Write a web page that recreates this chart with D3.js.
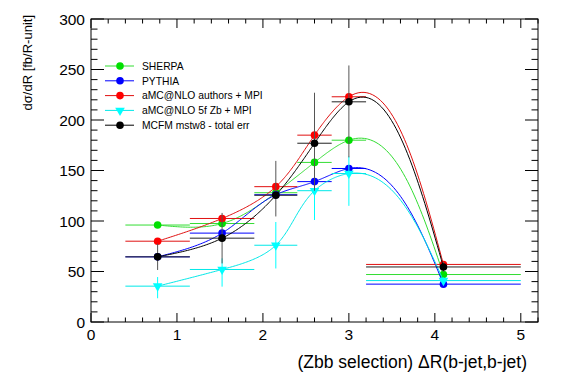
<!DOCTYPE html>
<html lang="en">
<head>
    <meta charset="UTF-8">
    <title>Zbb dR</title>
    <script src="https://d3js.org/d3.v7.min.js"></script>
    <style>
        body { margin: 0; background: #fff; }
        text { font-family: "Liberation Sans", Arial, sans-serif; }
    </style>
</head>
<body>
<script>
    // bins (x centre and edges)
    var binCentres = [0.775, 1.525, 2.15, 2.6, 3.0, 4.1];
    var binLow = [0.4, 1.15, 1.9, 2.4, 2.8, 3.2];
    var binHigh = [1.15, 1.9, 2.4, 2.8, 3.2, 5.0];

    // series values
    var sherpa = [96, 97.5, 128, 158, 180, 47];
    var pythia = [64.5, 88, 126, 139, 152, 37.5];
    var amcAuthors = [80, 102.5, 134, 185, 223, 57];
    var amc5f = [35.5, 52, 76, 130, 147, 41];
    var mcfm = [64.5, 83, 125.5, 177, 218, 54.5];

    // vertical errors (up / down)
    var amc5fUp = [9, 11, 23, 29, 17, 3];
    var amc5fDown = [12, 17, 23, 29, 32, 3];
    var mcfmUp = [13, 25, 34, 50, 36, 5];
    var mcfmDown = [13, 25, 21, 47, 55, 5];

    var xTicks = [0, 1, 2, 3, 4, 5];
    var yTicks = [0, 50, 100, 150, 200, 250, 300];

    var series = [
        {name: "SHERPA", values: sherpa, color: "#00e000", line: "#33dd33", marker: "circle"},
        {name: "PYTHIA", values: pythia, color: "#0000ff", line: "#0000ff", marker: "circle"},
        {name: "aMC@NLO authors + MPI", values: amcAuthors, color: "#ff0000", line: "#e01010", marker: "circle"},
        {name: "aMC@NLO 5f Zb + MPI", values: amc5f, color: "#00ffff", line: "#00e8e8", marker: "triangle",
            up: amc5fUp, down: amc5fDown},
        {name: "MCFM mstw8 - total err", values: mcfm, color: "#000000", line: "#000000", marker: "circle",
            up: mcfmUp, down: mcfmDown}
    ];

    var W = 567, H = 384;
    var margin = {top: 19, right: 29, bottom: 62, left: 91},
        width = W - margin.left - margin.right,
        height = H - margin.top - margin.bottom;

    var xScale = d3.scaleLinear().domain([0, 5.2]).range([0, width]);
    var yScale = d3.scaleLinear().domain([0, 300]).range([height, 0]);

    var svg = d3.select("body").append("svg")
        .attr("width", W)
        .attr("height", H);

    var g = svg.append("g")
        .attr("transform", "translate(" + margin.left + "," + margin.top + ")");

    // frame
    g.append("rect")
        .attr("width", width).attr("height", height)
        .attr("fill", "none").attr("stroke", "#000").attr("stroke-width", 1);

    // ticks on all four sides, pointing inward
    var xMinor = d3.range(0, 5.21, 0.2);
    var yMinor = d3.range(0, 301, 10);
    var isMajorX = d => Math.abs(d - Math.round(d)) < 1e-6;
    g.selectAll(".xt").data(xMinor).enter().append("line")
        .attr("x1", d => xScale(d)).attr("x2", d => xScale(d))
        .attr("y1", height)
        .attr("y2", d => height - (isMajorX(d) ? 9 : 4.5))
        .attr("stroke", "#000");
    g.selectAll(".xtt").data(xMinor).enter().append("line")
        .attr("x1", d => xScale(d)).attr("x2", d => xScale(d))
        .attr("y1", 0)
        .attr("y2", d => (isMajorX(d) ? 9 : 4.5))
        .attr("stroke", "#000");
    g.selectAll(".yt").data(yMinor).enter().append("line")
        .attr("y1", d => yScale(d)).attr("y2", d => yScale(d))
        .attr("x1", 0)
        .attr("x2", d => (d % 50 === 0 ? 13 : 6.5))
        .attr("stroke", "#000");
    g.selectAll(".ytr").data(yMinor).enter().append("line")
        .attr("y1", d => yScale(d)).attr("y2", d => yScale(d))
        .attr("x1", width)
        .attr("x2", d => width - (d % 50 === 0 ? 13 : 6.5))
        .attr("stroke", "#000");

    // tick labels
    g.selectAll(".xl").data(xTicks).enter().append("text")
        .attr("x", d => xScale(d))
        .attr("y", height + 18)
        .attr("text-anchor", "middle")
        .style("font-size", "15.5px")
        .text(d => d);
    g.selectAll(".yl").data(yTicks).enter().append("text")
        .attr("x", -6)
        .attr("y", d => yScale(d) + 5.5)
        .attr("text-anchor", "end")
        .style("font-size", "15.5px")
        .text(d => d);

    // axis titles
    g.append("text")
        .attr("x", width - 11)
        .attr("y", height + 46)
        .attr("text-anchor", "end")
        .style("font-size", "17.5px")
        .text("(Zbb selection) \u0394R(b-jet,b-jet)");
    g.append("text")
        .attr("transform", "translate(-59,-4) rotate(-90)")
        .attr("text-anchor", "end")
        .style("font-size", "13px")
        .text("d\u03c3/dR [fb/R-unit]");

    // parametric natural spline (chord length) through the points, in pixel space
    function naturalCoeffs(t, v) {
        var n = t.length, M = new Array(n).fill(0);
        var a = [], b = [], c = [], r = [];
        for (var i = 1; i < n - 1; i++) {
            var h0 = t[i] - t[i - 1], h1 = t[i + 1] - t[i];
            a.push(h0); b.push(2 * (h0 + h1)); c.push(h1);
            r.push(6 * ((v[i + 1] - v[i]) / h1 - (v[i] - v[i - 1]) / h0));
        }
        var m = b.length;
        for (var k = 1; k < m; k++) {
            var w = a[k] / b[k - 1];
            b[k] -= w * c[k - 1];
            r[k] -= w * r[k - 1];
        }
        for (var k = m - 1; k >= 0; k--) {
            M[k + 1] = (r[k] - (k < m - 1 ? c[k] * M[k + 2] : 0)) / b[k];
        }
        return M;
    }
    function evalSpline(t, v, M, i, s) {
        var h = t[i + 1] - t[i], A = t[i + 1] - s, B = s - t[i];
        return M[i] * A * A * A / (6 * h) + M[i + 1] * B * B * B / (6 * h)
            + (v[i] / h - M[i] * h / 6) * A + (v[i + 1] / h - M[i + 1] * h / 6) * B;
    }
    function smoothPoints(values) {
        var px = binCentres.map(d => xScale(d)), py = values.map(d => yScale(d));
        var t = [0];
        for (var i = 1; i < px.length; i++) {
            t.push(t[i - 1] + Math.hypot(px[i] - px[i - 1], py[i] - py[i - 1]));
        }
        var Mx = naturalCoeffs(t, px), My = naturalCoeffs(t, py);
        var pts = [];
        for (var i = 0; i < t.length - 1; i++) {
            for (var j = 0; j < 40; j++) {
                var s = t[i] + (t[i + 1] - t[i]) * j / 40;
                pts.push([evalSpline(t, px, Mx, i, s), evalSpline(t, py, My, i, s)]);
            }
        }
        pts.push([px[px.length - 1], py[py.length - 1]]);
        return pts;
    }
    var line = d3.line();

    var triangle = d3.symbol().type(d3.symbolTriangle).size(40);

    series.forEach(function(s) {
        var sg = g.append("g");
        sg.append("path")
            .attr("d", line(smoothPoints(s.values)))
            .attr("fill", "none")
            .attr("stroke", s.line)
            .attr("stroke-width", 1);

        // horizontal bin bars
        sg.selectAll(".hb").data(s.values).enter().append("line")
            .attr("x1", (d, i) => xScale(binLow[i]))
            .attr("x2", (d, i) => xScale(binHigh[i]))
            .attr("y1", d => yScale(d)).attr("y2", d => yScale(d))
            .attr("stroke", s.color === "#000000" ? "#222" : s.line)
            .attr("stroke-width", 1);

        // vertical errors
        if (s.up) {
            sg.selectAll(".vb").data(s.values).enter().append("line")
                .attr("x1", (d, i) => xScale(binCentres[i]))
                .attr("x2", (d, i) => xScale(binCentres[i]))
                .attr("y1", (d, i) => yScale(d + s.up[i]))
                .attr("y2", (d, i) => yScale(d - s.down[i]))
                .attr("stroke", s.color === "#000000" ? "#555" : s.color)
                .attr("stroke-width", 1);
        }

        // markers
        if (s.marker === "circle") {
            sg.selectAll(".pt").data(s.values).enter().append("circle")
                .attr("cx", (d, i) => xScale(binCentres[i]))
                .attr("cy", d => yScale(d))
                .attr("r", 3.8)
                .attr("fill", s.color);
        } else {
            sg.selectAll(".pt").data(s.values).enter().append("path")
                .attr("d", triangle)
                .attr("transform", (d, i) => "translate(" + xScale(binCentres[i]) + "," + yScale(d) + ") rotate(180)")
                .attr("fill", s.color);
        }
    });

    // legend
    var legend = svg.append("g").attr("transform", "translate(105,66)");
    series.forEach(function(s, i) {
        var row = legend.append("g").attr("transform", "translate(0," + (i * 14.8) + ")");
        row.append("line")
            .attr("x1", 0).attr("x2", 29)
            .attr("stroke", s.line).attr("stroke-width", 1);
        if (s.marker === "circle") {
            row.append("circle").attr("cx", 15).attr("r", 3.8).attr("fill", s.color);
        } else {
            row.append("path").attr("d", triangle)
                .attr("transform", "translate(15,0) rotate(180)")
                .attr("fill", s.color);
        }
        row.append("text")
            .attr("x", 37).attr("y", 3.8)
            .style("font-size", "10.3px")
            .text(s.name);
    });
</script>
</body>
</html>
